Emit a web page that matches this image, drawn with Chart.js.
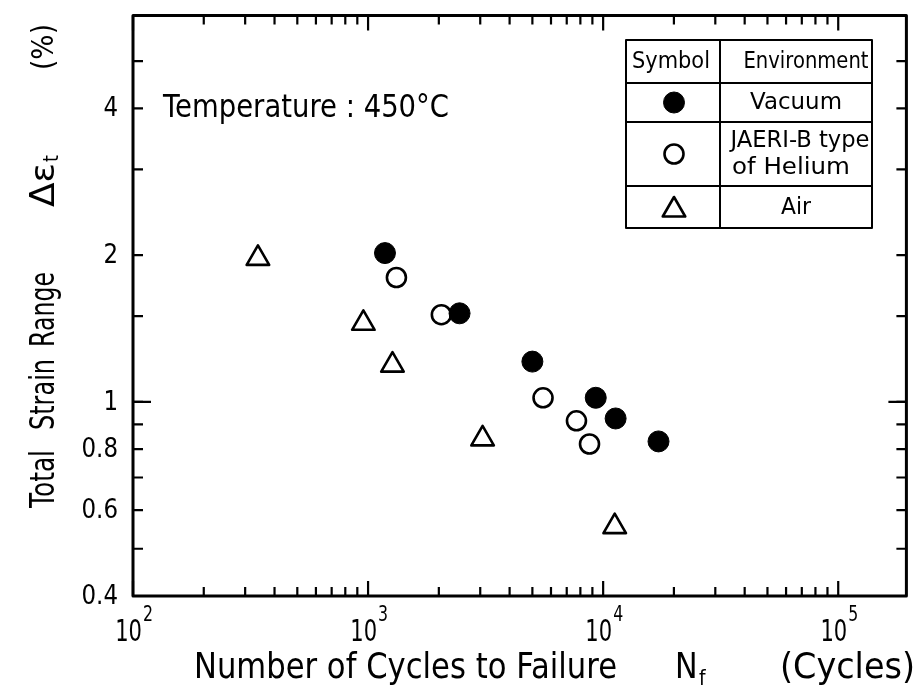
<!DOCTYPE html>
<html>
<head>
<meta charset="utf-8">
<script src="https://cdn.jsdelivr.net/npm/chart.js"></script>
<style>
  html, body { margin: 0; padding: 0; background: #fff; }
  #wrap { width: 922px; height: 694px; }
</style>
</head>
<body>
<div id="wrap"><canvas id="fatigue" width="922" height="694"></canvas></div>
<script>
// Fatigue life at 450 °C: cycles to failure vs. total strain range (%)
const vacuumCycles = [1180, 2450, 5000, 9300, 11300, 17200];
const vacuumStrain = [2.02, 1.52, 1.21, 1.02, 0.925, 0.83];

const heliumCycles = [1320, 2050, 5550, 7700, 8750];
const heliumStrain = [1.80, 1.51, 1.02, 0.915, 0.82];

const airCycles = [340, 955, 1270, 3070, 11200];
const airStrain = [1.97, 1.45, 1.19, 0.84, 0.555];

// Axis ranges and ticks
const xRange = [100, 195000];
const yRange = [0.4, 6.2];
const xDecadeTicks = [1e2, 1e3, 1e4, 1e5];
const xDecadeExponents = ['2', '3', '4', '5'];
const xMinorTicks = [200, 300, 400, 500, 600, 700, 800, 900,
                     2000, 3000, 4000, 5000, 6000, 7000, 8000, 9000,
                     20000, 30000, 40000, 50000, 60000, 70000, 80000, 90000];
const yLabelTicks = [0.4, 0.6, 0.8, 1, 2, 4];
const yLabelTexts = ['0.4', '0.6', '0.8', '1', '2', '4'];
const yMinorTicks = [0.5, 0.7, 0.9, 1.5, 3, 5];
const yDecadeTicks = [1];

// Legend table rows
const legendRows = [
  { style: 'filled', lines: ['Vacuum'] },
  { style: 'open', lines: ['JAERI-B type', 'of Helium'] },
  { style: 'triangle', lines: ['Air'] }
];

const FONT = '"DejaVu Sans", "Liberation Sans", sans-serif';
const INK = '#000';

function toPoints(xs, ys) {
  return xs.map((x, i) => ({ x: x, y: ys[i] }));
}

// Draws a text string, optionally squeezed to a given width or rotated
function drawText(ctx, s, x, y, o) {
  ctx.save();
  ctx.translate(x, y);
  if (o.rot) ctx.rotate(o.rot);
  ctx.font = o.size + 'px ' + FONT;
  let sx = o.sx || 1;
  if (o.width) sx = o.width / ctx.measureText(s).width;
  ctx.scale(sx, 1);
  ctx.textAlign = o.align || 'left';
  ctx.textBaseline = o.base || 'middle';
  ctx.fillStyle = INK;
  ctx.fillText(s, 0, 0);
  ctx.restore();
}

function markerOptions(style) {
  if (style === 'filled') return { pointStyle: 'circle', radius: 10.5, borderWidth: 1, fill: INK };
  if (style === 'open') return { pointStyle: 'circle', radius: 9.5, borderWidth: 2.6, fill: '#fff' };
  return { pointStyle: 'triangle', radius: 13, borderWidth: 2.6, fill: '#fff' };
}

function drawMarker(ctx, style, x, y) {
  const m = markerOptions(style);
  ctx.save();
  ctx.lineJoin = 'round';
  ctx.fillStyle = m.fill;
  ctx.strokeStyle = INK;
  ctx.lineWidth = m.borderWidth;
  Chart.helpers.drawPoint(ctx, { pointStyle: m.pointStyle, radius: m.radius, rotation: 0, borderWidth: m.borderWidth }, x, y);
  ctx.restore();
}

// Frame, inward ticks, tick labels, titles and the legend table
const framePlugin = {
  id: 'frameAndAnnotations',
  beforeDatasetsDraw(chart) {
    chart.ctx.lineJoin = 'round';
  },
  afterDraw(chart) {
    const ctx = chart.ctx;
    const a = chart.chartArea;
    const xs = chart.scales.x, ys = chart.scales.y;
    ctx.save();
    ctx.strokeStyle = INK;
    ctx.lineCap = 'butt';

    // frame
    ctx.lineWidth = 3;
    ctx.strokeRect(a.left, a.top, a.right - a.left, a.bottom - a.top);

    // x ticks on bottom and top edges
    ctx.lineWidth = 2.2;
    const xTick = (v, len) => {
      const px = xs.getPixelForValue(v);
      ctx.beginPath();
      ctx.moveTo(px, a.bottom); ctx.lineTo(px, a.bottom - len);
      ctx.moveTo(px, a.top); ctx.lineTo(px, a.top + len);
      ctx.stroke();
    };
    xMinorTicks.forEach(v => xTick(v, 9));
    xDecadeTicks.forEach(v => xTick(v, 15));

    // y ticks on left and right edges
    const yTick = (v, len) => {
      const py = ys.getPixelForValue(v);
      ctx.beginPath();
      ctx.moveTo(a.left, py); ctx.lineTo(a.left + len, py);
      ctx.moveTo(a.right, py); ctx.lineTo(a.right - len, py);
      ctx.stroke();
    };
    yMinorTicks.forEach(v => yTick(v, 10));
    yLabelTicks.forEach(v => yTick(v, 10));
    yDecadeTicks.forEach(v => yTick(v, 18));
    ctx.restore();

    // y tick labels
    yLabelTicks.forEach((v, i) => {
      drawText(ctx, yLabelTexts[i], 118, ys.getPixelForValue(v) + 1, { size: 27, sx: 0.85, align: 'right' });
    });

    // x tick labels: 10 with raised exponent
    xDecadeTicks.forEach((v, i) => {
      const px = xs.getPixelForValue(v);
      drawText(ctx, '10', px + 9, 641, { size: 31, sx: 0.68, align: 'right', base: 'alphabetic' });
      drawText(ctx, xDecadeExponents[i], px + 10, 621, { size: 21, sx: 0.75, align: 'left', base: 'alphabetic' });
    });

    // x axis title
    drawText(ctx, 'Number of Cycles to Failure', 194, 678, { size: 36, width: 423, base: 'alphabetic' });
    drawText(ctx, 'N', 675, 678, { size: 36, sx: 0.84, base: 'alphabetic' });
    drawText(ctx, 'f', 699, 685, { size: 22, sx: 0.85, base: 'alphabetic' });
    drawText(ctx, '(Cycles)', 780, 678, { size: 36, width: 135, base: 'alphabetic' });

    // y axis title, reading upwards
    const up = -Math.PI / 2;
    drawText(ctx, 'Total', 54, 508, { size: 33, width: 58, rot: up, base: 'alphabetic' });
    drawText(ctx, 'Strain', 54, 430, { size: 33, width: 71, rot: up, base: 'alphabetic' });
    drawText(ctx, 'Range', 54, 347, { size: 33, width: 75, rot: up, base: 'alphabetic' });
    drawText(ctx, 'Δε', 54, 207, { size: 34, width: 44, rot: up, base: 'alphabetic' });
    drawText(ctx, 't', 58, 162, { size: 21, sx: 0.85, rot: up, base: 'alphabetic' });
    drawText(ctx, '(%)', 53, 70, { size: 31, width: 46, rot: up, base: 'alphabetic' });

    // condition note
    drawText(ctx, 'Temperature : 450°C', 163, 117, { size: 32, width: 286, base: 'alphabetic' });

    // legend table
    const L = 626, R = 872, C = 720;
    const rowsY = [40, 83, 122, 186, 228];
    ctx.save();
    ctx.strokeStyle = INK;
    ctx.lineWidth = 2;
    ctx.fillStyle = '#fff';
    ctx.fillRect(L, rowsY[0], R - L, rowsY[4] - rowsY[0]);
    ctx.strokeRect(L, rowsY[0], R - L, rowsY[4] - rowsY[0]);
    ctx.beginPath();
    ctx.moveTo(C, rowsY[0]); ctx.lineTo(C, rowsY[4]);
    for (let i = 1; i < 4; i++) { ctx.moveTo(L, rowsY[i]); ctx.lineTo(R, rowsY[i]); }
    ctx.stroke();
    ctx.restore();

    drawText(ctx, 'Symbol', 671, 62, { size: 23, width: 78, align: 'center' });
    drawText(ctx, 'Environment', 806, 62, { size: 23, width: 125, align: 'center' });
    const textWidths = [[92], [139, 118], [30]];
    legendRows.forEach((row, i) => {
      const top = rowsY[i + 1], bot = rowsY[i + 2];
      const mid = (top + bot) / 2;
      const my = row.style === 'triangle' ? mid + 3 : mid;
      drawMarker(ctx, row.style, 674, my);
      if (row.lines.length === 1) {
        drawText(ctx, row.lines[0], 796, mid + 1, { size: 23, width: textWidths[i][0], align: 'center' });
      } else {
        drawText(ctx, row.lines[0], 800, mid - 13, { size: 23, width: textWidths[i][0], align: 'center' });
        drawText(ctx, row.lines[1], 791, mid + 14, { size: 23, width: textWidths[i][1], align: 'center' });
      }
    });
  }
};

const filled = markerOptions('filled');
const open = markerOptions('open');
const tri = markerOptions('triangle');

new Chart(document.getElementById('fatigue'), {
  type: 'scatter',
  data: {
    datasets: [
      {
        label: 'Vacuum',
        data: toPoints(vacuumCycles, vacuumStrain),
        pointStyle: filled.pointStyle, pointRadius: filled.radius,
        backgroundColor: INK, borderColor: INK, borderWidth: filled.borderWidth
      },
      {
        label: 'JAERI-B type of Helium',
        data: toPoints(heliumCycles, heliumStrain),
        pointStyle: open.pointStyle, pointRadius: open.radius,
        backgroundColor: '#fff', borderColor: INK, borderWidth: open.borderWidth
      },
      {
        label: 'Air',
        data: toPoints(airCycles, airStrain),
        pointStyle: tri.pointStyle, pointRadius: tri.radius,
        backgroundColor: '#fff', borderColor: INK, borderWidth: tri.borderWidth
      }
    ]
  },
  options: {
    responsive: false,
    animation: false,
    devicePixelRatio: 1,
    layout: { padding: { left: 133, right: 10, top: 13, bottom: 98 } },
    plugins: { legend: { display: false }, tooltip: { enabled: false } },
    events: [],
    scales: {
      x: { type: 'logarithmic', min: xRange[0], max: xRange[1], display: false },
      y: { type: 'logarithmic', min: yRange[0], max: yRange[1], display: false }
    }
  },
  plugins: [framePlugin]
});
</script>
</body>
</html>
